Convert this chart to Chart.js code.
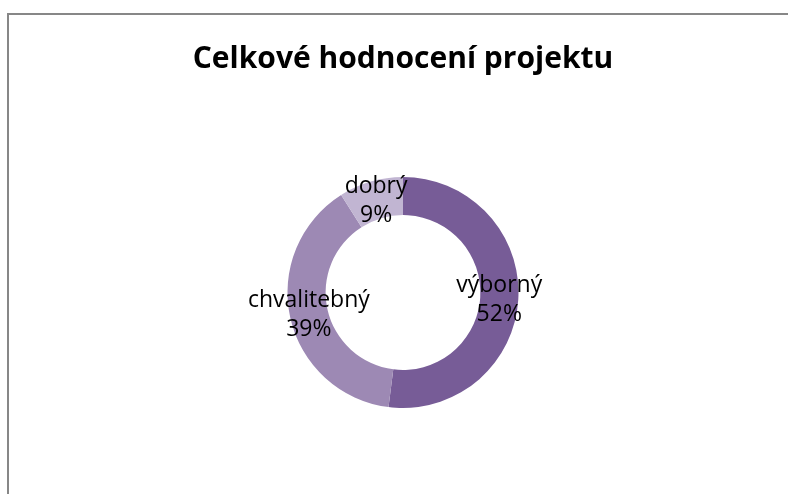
<!DOCTYPE html>
<html>
<head>
  <meta charset="utf-8">
  <title>Celkové hodnocení projektu</title>
  <script src="https://cdn.jsdelivr.net/npm/chart.js"></script>
  <style>
    html, body { margin: 0; padding: 0; background: #fff; overflow: hidden; }
    #wrap { position: relative; width: 788px; height: 494px; }
    #frame { position: absolute; left: 7px; top: 13px; width: 900px; height: 600px; border: 2px solid #878787; box-sizing: border-box; }
    canvas { position: absolute; left: 0; top: 0; }
  </style>
</head>
<body>
<div id="wrap">
  <div id="frame"></div>
  <canvas id="myChart" width="788" height="494"></canvas>
</div>
<script>
  const categories = ['výborný', 'chvalitebný', 'dobrý'];
  const values = [52, 39, 9];
  const colors = ['#775c97', '#9d89b4', '#c1b5d2'];

  const labelFont = '23px "Open Sans", sans-serif';

  // draws "name / percent" in the middle of each ring segment
  const sliceLabels = {
    id: 'sliceLabels',
    afterDatasetsDraw(chart) {
      const ctx = chart.ctx;
      const meta = chart.getDatasetMeta(0);
      const total = values.reduce((a, b) => a + b, 0);
      ctx.save();
      ctx.font = labelFont;
      ctx.fillStyle = '#000';
      ctx.textAlign = 'center';
      ctx.textBaseline = 'middle';
      meta.data.forEach((arc, i) => {
        const pos = arc.tooltipPosition();
        const pct = Math.round(values[i] / total * 100) + '%';
        ctx.fillText(categories[i], pos.x, pos.y - 13);
        ctx.fillText(pct, pos.x, pos.y + 16);
      });
      ctx.restore();
    }
  };

  new Chart(document.getElementById('myChart'), {
    type: 'doughnut',
    data: {
      labels: categories,
      datasets: [{
        data: values,
        backgroundColor: colors,
        borderWidth: 0
      }]
    },
    options: {
      responsive: false,
      animation: false,
      cutout: '67%',
      layout: { padding: { left: 18, right: 0, top: 0, bottom: 86 } },
      plugins: {
        legend: { display: false },
        tooltip: { enabled: false },
        title: {
          display: true,
          text: 'Celkové hodnocení projektu',
          color: '#000',
          font: { family: '"Open Sans", sans-serif', size: 30, weight: 'bold', lineHeight: 1.2 },
          padding: { top: 41, bottom: 100 }
        }
      }
    },
    plugins: [sliceLabels]
  });
</script>
</body>
</html>
